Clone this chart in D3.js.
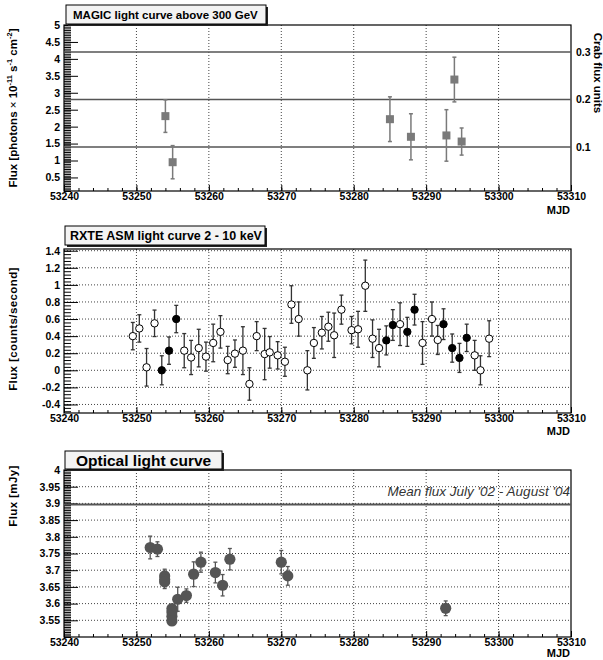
<!DOCTYPE html>
<html>
<head>
<meta charset="utf-8">
<script src="https://cdn.jsdelivr.net/npm/d3@7"></script>
<style>
body { margin: 0; background: #fff; }
svg text { font-family: "Liberation Sans", Arial, Helvetica, sans-serif; }
</style>
</head>
<body>
<svg id="chart" width="603" height="660"></svg>
<script>
// MAGIC light curve (flux in 1e-11 ph s-1 cm-2)
const magicMjd  = [53254.0, 53255.0, 53285.0, 53287.9, 53292.8, 53293.9, 53294.9];
const magicFlux = [2.31, 0.95, 2.22, 1.70, 1.74, 3.39, 1.56];
const magicErr  = [0.48, 0.49, 0.66, 0.68, 0.76, 0.66, 0.40];
const crabLevels = [0.1, 0.2, 0.3];
const crabUnit = 14.0;

// RXTE ASM light curve (counts/s), filled = simultaneous with MAGIC
const asmMjd = [53249.5, 53250.4, 53251.4, 53252.5, 53253.5, 53254.5, 53255.5, 53256.6, 53257.55, 53258.6,
                53259.6, 53260.6, 53261.6, 53262.6, 53263.6, 53264.7, 53265.6, 53266.6, 53267.7, 53268.4,
                53269.5, 53270.5, 53271.4, 53272.4, 53273.6, 53274.5, 53275.6, 53276.5, 53277.3, 53278.3,
                53279.7, 53280.6, 53281.6, 53282.6, 53283.5, 53284.5, 53285.4, 53286.4, 53287.4, 53288.4,
                53289.5, 53290.8, 53291.6, 53292.4, 53293.6, 53294.6, 53295.6, 53296.7, 53297.5, 53298.7];
const asmRate = [0.40, 0.49, 0.035, 0.55, 0.0, 0.23, 0.60, 0.23, 0.15, 0.26,
                 0.16, 0.32, 0.45, 0.12, 0.195, 0.23, -0.16, 0.40, 0.19, 0.21,
                 0.175, 0.10, 0.77, 0.60, 0.0, 0.32, 0.44, 0.51, 0.41, 0.71,
                 0.47, 0.48, 0.99, 0.37, 0.26, 0.35, 0.53, 0.54, 0.45, 0.71,
                 0.32, 0.60, 0.355, 0.54, 0.26, 0.145, 0.38, 0.175, 0.0, 0.37];
const asmErr  = [0.16, 0.16, 0.22, 0.155, 0.17, 0.16, 0.16, 0.20, 0.20, 0.22,
                 0.17, 0.22, 0.19, 0.16, 0.16, 0.28, 0.19, 0.17, 0.30, 0.185,
                 0.16, 0.17, 0.22, 0.20, 0.23, 0.18, 0.19, 0.17, 0.26, 0.17,
                 0.16, 0.21, 0.30, 0.22, 0.22, 0.17, 0.18, 0.25, 0.17, 0.18,
                 0.25, 0.20, 0.17, 0.18, 0.165, 0.17, 0.16, 0.175, 0.17, 0.21];
const asmFilled = [0, 0, 0, 0, 1, 1, 1, 0, 0, 0,
                   0, 0, 0, 0, 0, 0, 0, 0, 0, 0,
                   0, 0, 0, 0, 0, 0, 0, 0, 0, 0,
                   0, 0, 0, 0, 0, 1, 1, 0, 1, 1,
                   0, 0, 0, 1, 1, 1, 1, 0, 0, 0];

// Optical light curve (mJy)
const optMjd  = [53251.9, 53252.9, 53253.9, 53253.9, 53253.9, 53254.9, 53254.9, 53254.9, 53254.9,
                 53255.7, 53256.9, 53257.9, 53258.9, 53260.9, 53261.9, 53262.9, 53270.0, 53270.9, 53292.7];
const optFlux = [3.768, 3.763, 3.683, 3.672, 3.665, 3.585, 3.575, 3.562, 3.548,
                 3.613, 3.624, 3.688, 3.724, 3.693, 3.655, 3.733, 3.724, 3.683, 3.586];
const optErr  = [0.034, 0.022, 0.02, 0.02, 0.02, 0.012, 0.012, 0.012, 0.012,
                 0.036, 0.02, 0.037, 0.03, 0.031, 0.032, 0.032, 0.035, 0.028, 0.022];
const optMean = 3.897;

const xDomain = [53240, 53310];
const xMajor = d3.range(53240, 53311, 10);
const xMinor = d3.range(53240, 53311, 2);
const xGrid = d3.range(53250, 53301, 10);

const svg = d3.select("#chart");
const fmt = d => String(+(+d).toFixed(3));

function panel(o) {
    const x = d3.scaleLinear().domain(xDomain).range([o.left, o.right]);
    const y = d3.scaleLinear().domain(o.yDomain).range([o.bottom, o.top]);
    const g = svg.append("g");

    // grid
    g.selectAll(".vgrid").data(xGrid).enter().append("line")
        .attr("x1", d => x(d)).attr("x2", d => x(d))
        .attr("y1", o.top).attr("y2", o.bottom)
        .attr("stroke", "#444").attr("stroke-width", 1).attr("stroke-dasharray", "1,2");
    if (o.yGrid) {
        g.selectAll(".hgrid").data(o.yGrid).enter().append("line")
            .attr("x1", o.left).attr("x2", o.right)
            .attr("y1", d => y(d)).attr("y2", d => y(d))
            .attr("stroke", "#444").attr("stroke-width", 1).attr("stroke-dasharray", "1,2");
    }

    // axes
    const yMinorAx = g.append("g").attr("transform", `translate(${o.left},0)`)
        .call(d3.axisLeft(y).tickValues(o.yMinor).tickSize(-7).tickFormat(""));
    const yMajorAx = g.append("g").attr("transform", `translate(${o.left},0)`)
        .call(d3.axisLeft(y).tickValues(o.yMajor).tickSize(-14).tickPadding(4).tickFormat(fmt));
    const xMinorAx = g.append("g").attr("transform", `translate(0,${o.bottom})`)
        .call(d3.axisBottom(x).tickValues(xMinor).tickSize(-3).tickFormat(""));
    const xMajorAx = g.append("g").attr("transform", `translate(0,${o.bottom})`)
        .call(d3.axisBottom(x).tickValues(xMajor).tickSize(-6).tickPadding(2).tickFormat(d => d));
    [yMinorAx, yMajorAx, xMinorAx, xMajorAx].forEach(a => {
        a.select(".domain").remove();
        a.selectAll("line").attr("stroke", "#000");
        a.selectAll("text").attr("fill", "#000").attr("font-size", 10.5).attr("font-weight", "bold")
            .attr("font-family", "Liberation Sans, Arial, sans-serif");
    });

    // frame
    g.append("rect").attr("x", o.left).attr("y", o.top)
        .attr("width", o.right - o.left).attr("height", o.bottom - o.top)
        .attr("fill", "none").attr("stroke", "#000").attr("stroke-width", 1.2);

    // MJD label
    g.append("text").attr("x", o.right - 1).attr("y", o.bottom + o.mjdOffset)
        .attr("text-anchor", "end").attr("font-size", 11).attr("font-weight", "bold").text("MJD");

    // title box
    const tb = o.titleBox;
    g.append("rect").attr("x", tb.x + 2).attr("y", tb.y + 2).attr("width", tb.w).attr("height", tb.h)
        .attr("fill", "#222");
    g.append("rect").attr("x", tb.x).attr("y", tb.y).attr("width", tb.w).attr("height", tb.h)
        .attr("fill", "#f3f3f3").attr("stroke", "#000").attr("stroke-width", 1);
    g.append("text").attr("x", tb.x + tb.pad).attr("y", tb.y + tb.h / 2)
        .attr("dy", "0.36em").attr("font-size", tb.size).attr("font-weight", "bold").text(o.title);

    return { g, x, y };
}

// ---------- Panel 1: MAGIC ----------
const p1 = panel({
    left: 64, right: 571, top: 25, bottom: 191, mjdOffset: 23,
    yDomain: [0.1, 5],
    yMajor: d3.range(0.5, 5.01, 0.5),
    yMinor: d3.range(0.1, 5.001, 0.05),
    title: "MAGIC light curve above 300 GeV",
    titleBox: { x: 66, y: 5, w: 200, h: 19, pad: 7, size: 11.5 }
});

p1.g.selectAll(".crab").data(crabLevels).enter().append("line")
    .attr("x1", 64).attr("x2", 571)
    .attr("y1", d => p1.y(d * crabUnit)).attr("y2", d => p1.y(d * crabUnit))
    .attr("stroke", "#555").attr("stroke-width", 1.5);
p1.g.selectAll(".crabLab").data(crabLevels).enter().append("text")
    .attr("x", 576).attr("y", d => p1.y(d * crabUnit)).attr("dy", "0.35em")
    .attr("font-size", 10.5).attr("font-weight", "bold").text(d => d);
svg.append("text").attr("transform", "translate(594,73) rotate(90)")
    .attr("text-anchor", "middle").attr("font-size", 11.5).attr("font-weight", "bold")
    .text("Crab flux units");

magicMjd.forEach((m, i) => {
    const cx = p1.x(m), y0 = p1.y(magicFlux[i] - magicErr[i]), y1 = p1.y(magicFlux[i] + magicErr[i]);
    p1.g.append("line").attr("x1", cx).attr("x2", cx).attr("y1", y0).attr("y2", y1)
        .attr("stroke", "#7a7a7a").attr("stroke-width", 1.5);
    [y0, y1].forEach(yy => p1.g.append("line").attr("x1", cx - 2).attr("x2", cx + 2)
        .attr("y1", yy).attr("y2", yy).attr("stroke", "#7a7a7a").attr("stroke-width", 1.5));
});
p1.g.selectAll(".sq").data(magicMjd).enter().append("rect")
    .attr("x", d => p1.x(d) - 4).attr("y", (d, i) => p1.y(magicFlux[i]) - 4)
    .attr("width", 8).attr("height", 8).attr("fill", "#7a7a7a");

const yt1 = svg.append("text").attr("transform", "translate(17,108) rotate(-90)")
    .attr("text-anchor", "middle").attr("font-size", 11.5).attr("font-weight", "bold");
yt1.append("tspan").text("Flux [photons ");
yt1.append("tspan").attr("font-weight", "normal").text("\u00d7");
yt1.append("tspan").text(" 10");
yt1.append("tspan").attr("font-size", 7.5).attr("dy", -5).text("-11");
yt1.append("tspan").attr("dy", 5).text(" s");
yt1.append("tspan").attr("font-size", 7.5).attr("dy", -5).text("-1");
yt1.append("tspan").attr("dy", 5).text(" cm");
yt1.append("tspan").attr("font-size", 7.5).attr("dy", -5).text("-2");
yt1.append("tspan").attr("dy", 5).text("]");

// ---------- Panel 2: RXTE ASM ----------
const p2 = panel({
    left: 64, right: 571, top: 249, bottom: 413, mjdOffset: 22,
    yDomain: [-0.5, 1.42],
    yMajor: d3.range(-0.4, 1.41, 0.2),
    yMinor: d3.range(-0.48, 1.41, 0.04),
    yGrid: d3.range(-0.4, 1.41, 0.2),
    title: "RXTE ASM light curve 2 - 10 keV",
    titleBox: { x: 65, y: 226, w: 200, h: 19, pad: 5, size: 12.5 }
});

asmMjd.forEach((m, i) => {
    const cx = p2.x(m), y0 = p2.y(asmRate[i] - asmErr[i]), y1 = p2.y(asmRate[i] + asmErr[i]);
    p2.g.append("line").attr("x1", cx).attr("x2", cx).attr("y1", y0).attr("y2", y1)
        .attr("stroke", "#333").attr("stroke-width", 1.3);
    [y0, y1].forEach(yy => p2.g.append("line").attr("x1", cx - 2).attr("x2", cx + 2)
        .attr("y1", yy).attr("y2", yy).attr("stroke", "#333").attr("stroke-width", 1.3));
});
p2.g.selectAll(".asm").data(asmMjd).enter().append("circle")
    .attr("cx", d => p2.x(d)).attr("cy", (d, i) => p2.y(asmRate[i])).attr("r", 3.7)
    .attr("fill", (d, i) => asmFilled[i] ? "#000" : "#fff")
    .attr("stroke", "#000").attr("stroke-width", 1);

svg.append("text").attr("transform", "translate(17,329) rotate(-90)")
    .attr("text-anchor", "middle").attr("font-size", 11.5).attr("font-weight", "bold")
    .attr("letter-spacing", 0.4).text("Flux [counts/second]");

// ---------- Panel 3: Optical ----------
const p3 = panel({
    left: 64, right: 571, top: 470, bottom: 637, mjdOffset: 19.5,
    yDomain: [3.5, 4],
    yMajor: d3.range(3.55, 4.001, 0.05),
    yMinor: d3.range(3.5, 4.0001, 0.005),
    yGrid: d3.range(3.55, 3.96, 0.05),
    title: "Optical light curve",
    titleBox: { x: 65, y: 451, w: 157, h: 18, pad: 11, size: 15.5 }
});

p3.g.append("line").attr("x1", 64).attr("x2", 571)
    .attr("y1", p3.y(optMean)).attr("y2", p3.y(optMean))
    .attr("stroke", "#555").attr("stroke-width", 2);
p3.g.append("text").attr("x", 570).attr("y", p3.y(3.921))
    .attr("text-anchor", "end").attr("font-size", 13.5).attr("font-style", "italic")
    .attr("fill", "#333").text("Mean flux July '02 - August '04");

optMjd.forEach((m, i) => {
    const cx = p3.x(m), y0 = p3.y(optFlux[i] - optErr[i]), y1 = p3.y(optFlux[i] + optErr[i]);
    p3.g.append("line").attr("x1", cx).attr("x2", cx).attr("y1", y0).attr("y2", y1)
        .attr("stroke", "#555").attr("stroke-width", 1.3);
    [y0, y1].forEach(yy => p3.g.append("line").attr("x1", cx - 2).attr("x2", cx + 2)
        .attr("y1", yy).attr("y2", yy).attr("stroke", "#555").attr("stroke-width", 1.3));
});
p3.g.selectAll(".opt").data(optMjd).enter().append("circle")
    .attr("cx", d => p3.x(d)).attr("cy", (d, i) => p3.y(optFlux[i])).attr("r", 5.6)
    .attr("fill", "#555");

svg.append("text").attr("transform", "translate(17,496) rotate(-90)")
    .attr("text-anchor", "middle").attr("font-size", 11.5).attr("font-weight", "bold")
    .attr("letter-spacing", 0.4).text("Flux [mJy]");
</script>
</body>
</html>
